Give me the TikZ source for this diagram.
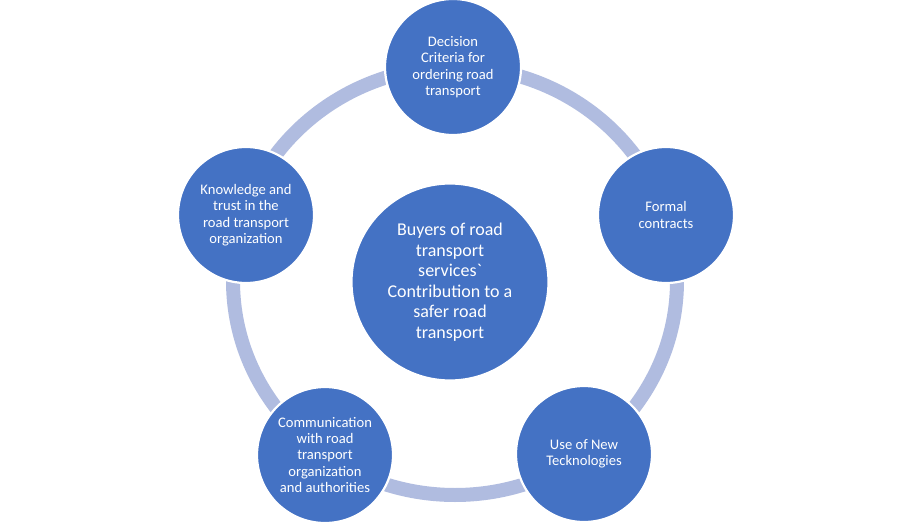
\documentclass[tikz,border=0pt]{standalone}
\usepackage{fontspec}
\setmainfont{Carlito}
\definecolor{cblue}{RGB}{68,114,196}
\definecolor{ringc}{RGB}{176,188,224}
\begin{document}
\begin{tikzpicture}[x=1pt,y=-1pt,
  item/.style={circle, fill=cblue, draw=white, line width=2.2pt, minimum size=136pt,
    inner sep=0pt, text=white, align=center, font=\fontsize{14.6}{16.4}\selectfont},
  hub/.style={item, minimum size=197pt, font=\fontsize{18}{20.5}\selectfont},
  ringline/.style={draw=ringc, line width=14pt}]
\fill[white] (0,0) rectangle (900,527);
\useasboundingbox (0,0) rectangle (900,527);
\coordinate (rc) at (455,281);
\draw[ringline] (rc) ellipse [x radius=222pt, y radius=214pt];
\node[hub] (hub) at (450,282) {Buyers of road\\transport\\services{\addfontfeatures{Ligatures=TeXOff}`}\\Contribution to a\\safer road\\transport};
\node[item] (top) at (453,67) {Decision\\Criteria for\\ordering road\\transport};
\node[item] (right) at (666,215) {Formal\\contracts};
\node[item] (br) at (584,454) {Use of New\\Tecknologies};
\node[item] (bl) at (325,455) {Communication\\with road\\transport\\organization\\and authorities};
\node[item] (left) at (246,215) {Knowledge and\\trust in the\\road transport\\organization};
\end{tikzpicture}
\end{document}
